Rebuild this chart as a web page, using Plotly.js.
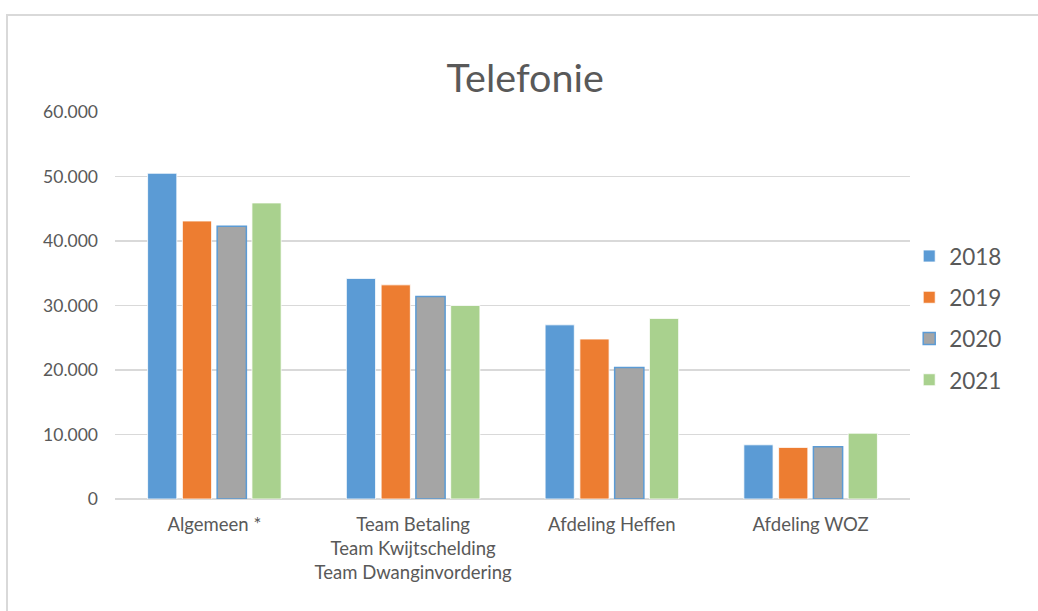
<!DOCTYPE html>
<html>
<head>
<meta charset="utf-8">
<script src="https://cdn.plot.ly/plotly-3.0.1.min.js"></script>
<style>
html,body{margin:0;padding:0;background:#fff;}
#wrap{position:relative;width:1038px;height:611px;}
#chart{width:1038px;height:611px;}
#frame{position:absolute;left:6px;top:14px;width:1040px;height:610px;border-top:2px solid #D9D9D9;border-left:2px solid #D9D9D9;pointer-events:none;}
</style>
</head>
<body>
<div id="wrap"><div id="chart"></div><div id="frame"></div></div>
<script>
const categories = ["Algemeen *", "Team Betaling<br>Team Kwijtschelding<br>Team Dwanginvordering", "Afdeling Heffen", "Afdeling WOZ"];
const years = ["2018", "2019", "2020", "2021"];
const values2018 = [50500, 34200, 27000, 8400];
const values2019 = [43100, 33200, 24800, 8000];
const values2020 = [42300, 31400, 20400, 8100];
const values2021 = [45900, 30000, 28000, 10200];
const yTickValues = [0, 10000, 20000, 30000, 40000, 50000, 60000];

const seriesValues = [values2018, values2019, values2020, values2021];
const colors = ["#5B9BD5", "#ED7D31", "#A5A5A5", "#A9D18E"];
const lineColors = ["#FFFFFF", "#FFFFFF", "#5B9BD5", "#FFFFFF"];
const lineWidths = [0.8, 0.8, 1.5, 0.8];
const fontFam = "Lato, 'Liberation Sans', sans-serif";

const traces = years.map((y, i) => ({
  type: "bar",
  name: y,
  x: categories,
  y: seriesValues[i],
  legendgroup: "g" + y,
  marker: {color: colors[i], line: {color: lineColors[i], width: lineWidths[i]}},
  hoverinfo: "x+y+name"
}));

const layout = {
  width: 1038, height: 611,
  margin: {l: 115, r: 128, t: 112, b: 112},
  paper_bgcolor: "#fff", plot_bgcolor: "#fff",
  separators: ",.",
  font: {family: fontFam, color: "#595959", size: 17},
  title: {text: "Telefonie", font: {family: fontFam, size: 39.5, color: "#595959"},
          xref: "container", x: 0.506, xanchor: "center", yref: "container", y: 0.872, yanchor: "middle"},
  barmode: "group",
  bargap: 0.3,
  bargroupgap: 0.16,
  xaxis: {type: "category", showgrid: false, showline: false, zeroline: false, ticks: "",
          tickfont: {family: fontFam, size: 18.5, color: "#595959"}, ticklabelstandoff: 12, fixedrange: true},
  yaxis: {range: [0, 60000], tickvals: yTickValues, tickformat: ",d", showgrid: true, gridcolor: "#D9D9D9", gridwidth: 1.3,
          zeroline: true, zerolinecolor: "#D9D9D9", zerolinewidth: 1.3, showline: false, ticks: "",
          tickfont: {family: fontFam, size: 17.5, color: "#595959"}, ticklabelstandoff: 16, fixedrange: true},
  legend: {x: 0.999, xanchor: "left", y: 0.468, yanchor: "middle", font: {family: fontFam, size: 22.5, color: "#595959"},
           tracegroupgap: 9, itemwidth: 30, bgcolor: "rgba(0,0,0,0)"},
  showlegend: true
};

Plotly.newPlot("chart", traces, layout, {displayModeBar: false, staticPlot: true});
</script>
</body>
</html>
